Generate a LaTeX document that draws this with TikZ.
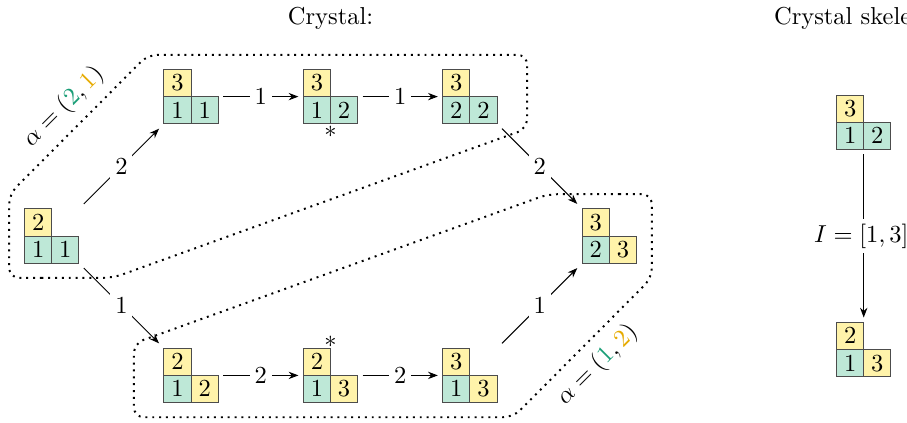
\documentclass[tikz,border=0pt]{standalone}
\usepackage{amsmath,amssymb}
\usepackage{xcolor}
\usepackage{tikz}
\usetikzlibrary{arrows.meta,positioning,calc}

\definecolor{boxgreen}{RGB}{190,232,215}
\definecolor{boxyellow}{RGB}{255,243,170}
\definecolor{idxgreen}{RGB}{27,158,119}
\definecolor{idxgold}{RGB}{230,171,2}

% one tableau of shape (2,1): name, top entry, top fill, left entry, left fill, right entry, right fill
\newcommand{\tabl}[7]{%
  \node[cell, fill=#3, anchor=south east] (#1-t) at (#1.center) {#2};
  \node[cell, fill=#5, anchor=north east] (#1-l) at (#1.center) {#4};
  \node[cell, fill=#7, anchor=north west] (#1-r) at (#1.center) {#6};
}

\begin{document}
\begin{tikzpicture}[
  cell/.style={draw=black!70, minimum size=0.39cm, inner sep=0pt, outer sep=0pt},
  tab/.style={minimum size=0.78cm, inner sep=0pt, outer sep=2pt},
  edge/.style={-{Stealth[length=4pt]}},
  lbl/.style={fill=white, inner sep=2pt}
]
\useasboundingbox (-0.742,-2.669) rectangle (12.271,3.386);

\node[anchor=base] (crys) at (4,3.03) {Crystal:};
\node[anchor=base] (skel) at (11.65,3.03) {Crystal skeleton:};

% the crystal
\node[tab] (A) at (0,0) {};
\node[tab] (B) at (2,2) {};
\node[tab] (C) at (4,2) {};
\node[tab] (D) at (6,2) {};
\node[tab] (E) at (2,-2) {};
\node[tab] (F) at (4,-2) {};
\node[tab] (G) at (6,-2) {};
\node[tab] (H) at (8,0) {};
\tabl{A}{$2$}{boxyellow}{$1$}{boxgreen}{$1$}{boxgreen}
\tabl{B}{$3$}{boxyellow}{$1$}{boxgreen}{$1$}{boxgreen}
\tabl{C}{$3$}{boxyellow}{$1$}{boxgreen}{$2$}{boxgreen}
\tabl{D}{$3$}{boxyellow}{$2$}{boxgreen}{$2$}{boxgreen}
\tabl{E}{$2$}{boxyellow}{$1$}{boxgreen}{$2$}{boxyellow}
\tabl{F}{$2$}{boxyellow}{$1$}{boxgreen}{$3$}{boxyellow}
\tabl{G}{$3$}{boxyellow}{$1$}{boxgreen}{$3$}{boxyellow}
\tabl{H}{$3$}{boxyellow}{$2$}{boxgreen}{$3$}{boxyellow}

\node[inner sep=0pt] (Cstar) [below=-1.4pt of C] {$*$};
\node[inner sep=0pt] (Fstar) [above=-2pt of F] {$*$};

\draw[edge] (A) -- node[lbl] (lab) {$2$} (B);
\draw[edge] (B) -- node[lbl] (lbc) {$1$} (C);
\draw[edge] (C) -- node[lbl] (lcd) {$1$} (D);
\draw[edge] (D) -- node[lbl] (ldh) {$2$} (H);
\draw[edge] (A) -- node[lbl] (lae) {$1$} (E);
\draw[edge] (E) -- node[lbl] (lef) {$2$} (F);
\draw[edge] (F) -- node[lbl] (lfg) {$2$} (G);
\draw[edge] (G) -- node[lbl] (lgh) {$1$} (H);

% the two components
\draw[dotted, thick, rounded corners=4pt] (0,-0.6) -- (-0.61,-0.6) -- (-0.61,0.6) -- (1.38,2.6)
  -- (6.82,2.6) -- (6.82,1.54) -- (0.88,-0.6) -- cycle;
\draw[dotted, thick, rounded corners=4pt] (8,0.6) -- (8.61,0.6) -- (8.61,-0.6) -- (6.62,-2.6)
  -- (1.18,-2.6) -- (1.18,-1.54) -- (7.12,0.6) -- cycle;
\node[rotate=45] (alphaA) at (0.17,1.85) {$\alpha = (\textcolor{idxgreen}{2}, \textcolor{idxgold}{1})$};
\node[rotate=45] (alphaB) at (7.83,-1.85) {$\alpha = (\textcolor{idxgreen}{1}, \textcolor{idxgold}{2})$};

% the skeleton
\node[tab] (S1) at (11.65,1.63) {};
\node[tab] (S2) at (11.65,-1.63) {};
\tabl{S1}{$3$}{boxyellow}{$1$}{boxgreen}{$2$}{boxgreen}
\tabl{S2}{$2$}{boxyellow}{$1$}{boxgreen}{$3$}{boxyellow}
\draw[edge] (S1) -- node[lbl, xshift=-1pt] (lint) {$I = [1,3]$} (S2);
\end{tikzpicture}
\end{document}
